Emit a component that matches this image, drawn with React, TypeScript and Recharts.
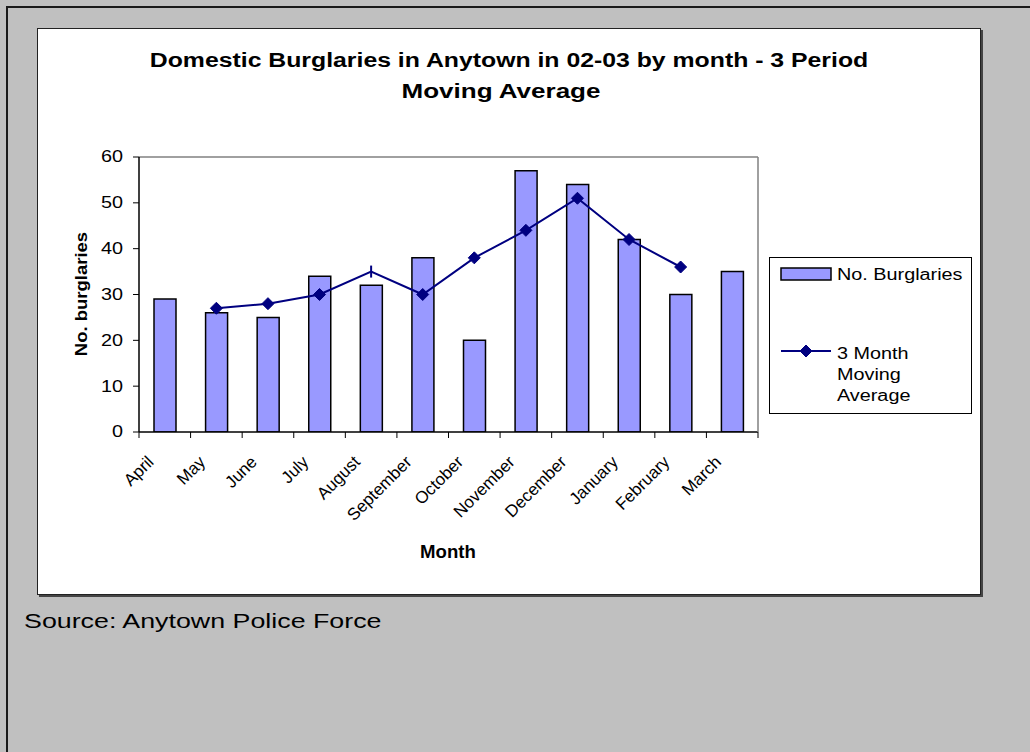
import React from 'react';
import { ComposedChart, Bar, Line, XAxis, YAxis, ReferenceLine, Legend } from 'recharts';

const months = ['April', 'May', 'June', 'July', 'August', 'September', 'October', 'November', 'December', 'January', 'February', 'March'];
const burglaries = [29, 26, 25, 34, 32, 38, 20, 57, 54, 42, 30, 35];
const movingAverage: (number | null)[] = [null, 27, 28, 30, 35, 30, 38, 44, 51, 42, 36, null];
const yTicks = [0, 10, 20, 30, 40, 50, 60];

const data = months.map((m, i) => ({ month: m, burglaries: burglaries[i], avg: movingAverage[i] }));

const FONT = '"Liberation Sans", Arial, Helvetica, sans-serif';
const STRETCH = 1.27;
const W = 1030;
const H = 752;
const PLOT_L = 139;
const PLOT_R = 758;
const PLOT_T = 157;
const PLOT_B = 432;
const Y_AXIS_W = 60;
const X_AXIS_H = 60;
const BAND = (PLOT_R - PLOT_L) / months.length;
const BAR_FILL = '#9999FF';
const LINE_COLOR = '#000080';

const XTick = (props: any) => {
  const { x, y, payload, index } = props;
  const i = payload && payload.index != null ? payload.index : index;
  return (
    <g>
      <line x1={x - BAND / 2} x2={x - BAND / 2} y1={y} y2={y + 6} stroke="#000" strokeWidth={1} />
      {i === months.length - 1 && (
        <line x1={x + BAND / 2} x2={x + BAND / 2} y1={y} y2={y + 6} stroke="#000" strokeWidth={1} />
      )}
      <g transform={`translate(${x - 10},${y + 31}) rotate(-45)`}>
        <text x={0} y={0} textAnchor="end" fontSize={17} fontFamily={FONT} fill="#000">
          {payload.value}
        </text>
      </g>
    </g>
  );
};

const YTick = (props: any) => {
  const { x, y, payload } = props;
  return (
    <g transform={`translate(${x},${y}) scale(${STRETCH},1)`}>
      <text x={0} y={0} dy="0.35em" textAnchor="end" fontSize={15.6} fontFamily={FONT} fill="#000">
        {payload.value}
      </text>
    </g>
  );
};

const Diamond = ({ cx, cy, r = 6 }: { cx: number; cy: number; r?: number }) => (
  <polygon points={`${cx},${cy - r} ${cx + r},${cy} ${cx},${cy + r} ${cx - r},${cy}`} fill={LINE_COLOR} stroke={LINE_COLOR} strokeWidth={1} />
);

const AvgDot = (props: any) => {
  const { cx, cy, index, value } = props;
  if (value == null || cx == null || cy == null || isNaN(cy)) return <g key={`d${index}`} />;
  if (index === 4) {
    return (
      <g key={`d${index}`}>
        <line x1={cx} x2={cx} y1={cy - 6} y2={cy + 6} stroke={LINE_COLOR} strokeWidth={2} />
      </g>
    );
  }
  return (
    <g key={`d${index}`}>
      <Diamond cx={cx} cy={cy} />
    </g>
  );
};

const LegendBox = () => (
  <svg width={203} height={157} style={{ display: 'block' }}>
    <rect x={0.5} y={0.5} width={202} height={156} fill="#fff" stroke="#000" strokeWidth={1} />
    <rect x={12} y={11} width={50} height={12} fill={BAR_FILL} stroke="#000" strokeWidth={1.5} />
    <g transform={`translate(68,23) scale(${STRETCH},1)`}>
      <text x={0} y={0} fontSize={15.6} fontFamily={FONT} fill="#000">No. Burglaries</text>
    </g>
    <line x1={12} x2={62} y1={94} y2={94} stroke={LINE_COLOR} strokeWidth={2} />
    <Diamond cx={37} cy={94} />
    <g transform={`translate(68,102) scale(${STRETCH},1)`}>
      <text x={0} y={0} fontSize={15.6} fontFamily={FONT} fill="#000">3 Month</text>
    </g>
    <g transform={`translate(68,123) scale(${STRETCH},1)`}>
      <text x={0} y={0} fontSize={15.6} fontFamily={FONT} fill="#000">Moving</text>
    </g>
    <g transform={`translate(68,144) scale(${STRETCH},1)`}>
      <text x={0} y={0} fontSize={15.6} fontFamily={FONT} fill="#000">Average</text>
    </g>
  </svg>
);

export default function App() {
  return (
    <div style={{ position: 'absolute', left: 0, top: 0, width: W, height: H, background: '#C0C0C0', overflow: 'hidden', fontFamily: FONT }}>
      <div style={{ position: 'absolute', left: 6, top: 6, width: W, height: H, borderTop: '2px solid #1a1a1a', borderLeft: '2px solid #1a1a1a' }} />
      <div style={{ position: 'absolute', left: 37, top: 28, width: 942, height: 565, background: '#fff', border: '1px solid #222', boxShadow: '2px 2px 0 #444' }} />

      <div style={{ position: 'absolute', left: 509, top: 50, whiteSpace: 'nowrap', fontWeight: 'bold', fontSize: 20, lineHeight: '20px', transform: 'translateX(-50%) scaleX(1.24)', color: '#000' }}>
        Domestic Burglaries in Anytown in 02-03 by month - 3 Period
      </div>
      <div style={{ position: 'absolute', left: 501, top: 81, whiteSpace: 'nowrap', fontWeight: 'bold', fontSize: 20, lineHeight: '20px', transform: 'translateX(-50%) scaleX(1.3)', color: '#000' }}>
        Moving Average
      </div>

      <div style={{ position: 'absolute', left: 81, top: 294, whiteSpace: 'nowrap', fontWeight: 'bold', fontSize: 16.5, lineHeight: '16.5px', transform: 'translate(-50%,-50%) rotate(-90deg) scaleX(1.12)', color: '#000' }}>
        No. burglaries
      </div>

      <div style={{ position: 'absolute', left: 448, top: 543, whiteSpace: 'nowrap', fontWeight: 'bold', fontSize: 18.6, lineHeight: '18.6px', transform: 'translateX(-50%)', color: '#000' }}>
        Month
      </div>

      <div style={{ position: 'absolute', left: 24, top: 611, whiteSpace: 'nowrap', fontSize: 20, lineHeight: '20px', transform: 'scaleX(1.34)', transformOrigin: 'left center', color: '#000' }}>
        Source: Anytown Police Force
      </div>

      <div style={{ position: 'absolute', left: 0, top: 0 }}>
        <ComposedChart
          width={W}
          height={H}
          data={data}
          margin={{ top: PLOT_T, right: W - PLOT_R - 1, bottom: H - PLOT_B - X_AXIS_H, left: PLOT_L - Y_AXIS_W }}
        >
          <XAxis
            dataKey="month"
            interval={0}
            height={X_AXIS_H}
            tickSize={0}
            tickMargin={0}
            tickLine={false}
            axisLine={{ stroke: '#000', strokeWidth: 1.5 }}
            tick={<XTick />}
          />
          <YAxis
            domain={[0, 60]}
            ticks={yTicks}
            width={Y_AXIS_W}
            tickSize={6}
            tickMargin={10}
            tickLine={{ stroke: '#000' }}
            axisLine={{ stroke: '#000', strokeWidth: 1.5 }}
            tick={<YTick />}
            allowDataOverflow
          />
          <YAxis
            yAxisId="right"
            orientation="right"
            domain={[0, 60]}
            width={1}
            tick={false}
            tickLine={false}
            axisLine={{ stroke: '#808080', strokeWidth: 1.5 }}
          />
          <ReferenceLine y={60} stroke="#808080" strokeWidth={1.5} />
          <Bar dataKey="burglaries" name="No. Burglaries" barSize={22} fill={BAR_FILL} stroke="#000" strokeWidth={1.5} isAnimationActive={false} />
          <Line
            dataKey="avg"
            name="3 Month Moving Average"
            stroke={LINE_COLOR}
            strokeWidth={2}
            dot={<AvgDot />}
            activeDot={false}
            connectNulls={false}
            isAnimationActive={false}
          />
          <Legend
            layout="horizontal"
            verticalAlign="middle"
            align="center"
            wrapperStyle={{ left: 769, top: 257, width: 203, height: 157 }}
            content={<LegendBox />}
          />
        </ComposedChart>
      </div>
    </div>
  );
}
